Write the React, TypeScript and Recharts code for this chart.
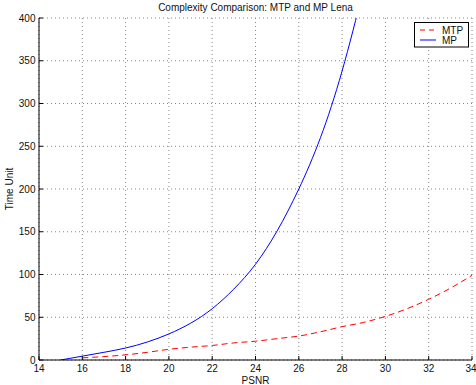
import {
  CartesianGrid,
  ComposedChart,
  Legend,
  Line,
  XAxis,
  YAxis,
} from 'recharts';

// MTP (red dashed) and MP (blue solid)
const MTP_PSNR = [16, 17, 18, 19, 20, 21, 22, 23, 24, 25, 26, 27, 28, 29, 30, 31, 32, 33, 34];
const MTP_TIME = [2.5, 4, 6, 9, 12.5, 15, 17, 20, 22, 25, 28, 33, 39, 44, 51, 60, 71, 84, 99];

const MP_PSNR = [15, 16, 17, 18, 19, 20, 21, 22, 23, 24, 25, 26, 27, 28, 29];
const MP_TIME = [0, 4.5, 9, 14, 21, 30.5, 43, 60, 83, 112, 151, 200, 260, 338, 435];

const X_TICKS = [14, 16, 18, 20, 22, 24, 26, 28, 30, 32, 34];
const Y_TICKS = [0, 50, 100, 150, 200, 250, 300, 350, 400];

const mtpData = MTP_PSNR.map((x, i) => ({ x, y: MTP_TIME[i] }));
const mpData = MP_PSNR.map((x, i) => ({ x, y: MP_TIME[i] }));

const FONT = '"Liberation Sans", Arial, Helvetica, sans-serif';
const COL_MTP = '#ff0000';
const COL_MP = '#0000ff';
const TICK = { fontSize: 10, fill: '#111', fontFamily: FONT };

function LegendBox() {
  return (
    <svg width={55} height={26} style={{ display: 'block', fontFamily: FONT }}>
      <rect x={0.5} y={0.5} width={54} height={24.5} fill="#fff" stroke="#000" />
      <line x1={6} x2={22} y1={8} y2={8} stroke={COL_MTP} strokeDasharray="5 4" />
      <text x={28} y={11.5} fontSize={10} fill="#111">MTP</text>
      <line x1={6} x2={22} y1={18} y2={18} stroke={COL_MP} />
      <text x={28} y={21.5} fontSize={10} fill="#111">MP</text>
    </svg>
  );
}

export default function App() {
  return (
    <div style={{ position: 'absolute', left: 0, top: 0, width: 476, height: 385, background: '#fff' }}>
      <div
        style={{
          position: 'absolute',
          left: 39,
          top: 2,
          width: 433,
          textAlign: 'center',
          fontFamily: FONT,
          fontSize: 10,
          lineHeight: '12px',
          color: '#111',
        }}
      >
        Complexity Comparison: MTP and MP Lena
      </div>
      <ComposedChart
        width={476}
        height={385}
        margin={{ top: 18, right: 4, left: 0, bottom: 0 }}
        style={{ fontFamily: FONT }}
      >
        <CartesianGrid stroke="#888" strokeDasharray="1 3" />
        <XAxis
          type="number"
          dataKey="x"
          domain={[14, 34]}
          ticks={X_TICKS}
          allowDataOverflow
          height={25}
          stroke="#000"
          tickSize={-4}
          tickMargin={9}
          tick={TICK}
          label={{ value: 'PSNR', position: 'insideBottom', offset: 1.5, fontSize: 10, fill: '#111' }}
        />
        <XAxis
          xAxisId="top"
          orientation="top"
          type="number"
          domain={[14, 34]}
          ticks={X_TICKS}
          height={0}
          stroke="#000"
          tickSize={-4}
          tick={false}
        />
        <YAxis
          type="number"
          domain={[0, 400]}
          ticks={Y_TICKS}
          allowDataOverflow
          width={39}
          stroke="#000"
          tickSize={-4}
          tickMargin={7.5}
          tick={TICK}
          label={{
            content: ({ viewBox }: any) => {
              const cx = viewBox.x + 12.5;
              const cy = viewBox.y + viewBox.height / 2;
              return (
                <text
                  x={cx}
                  y={cy}
                  transform={`rotate(-90 ${cx} ${cy})`}
                  textAnchor="middle"
                  fontSize={10}
                  fill="#111"
                  fontFamily={FONT}
                >
                  Time Unit
                </text>
              );
            },
          }}
        />
        <YAxis
          yAxisId="right"
          orientation="right"
          type="number"
          domain={[0, 400]}
          ticks={Y_TICKS}
          width={0}
          stroke="#000"
          tickSize={-4}
          tick={false}
        />
        <Legend
          layout="vertical"
          align="center"
          verticalAlign="middle"
          wrapperStyle={{ left: 414, top: 22, width: 55, height: 26 }}
          content={() => <LegendBox />}
        />
        <Line
          data={mtpData}
          dataKey="y"
          name="MTP"
          type="monotone"
          stroke={COL_MTP}
          strokeWidth={1}
          strokeDasharray="6 4"
          dot={false}
          isAnimationActive={false}
        />
        <Line
          data={mpData}
          dataKey="y"
          name="MP"
          type="natural"
          stroke={COL_MP}
          strokeWidth={1}
          dot={false}
          isAnimationActive={false}
        />
      </ComposedChart>
    </div>
  );
}
